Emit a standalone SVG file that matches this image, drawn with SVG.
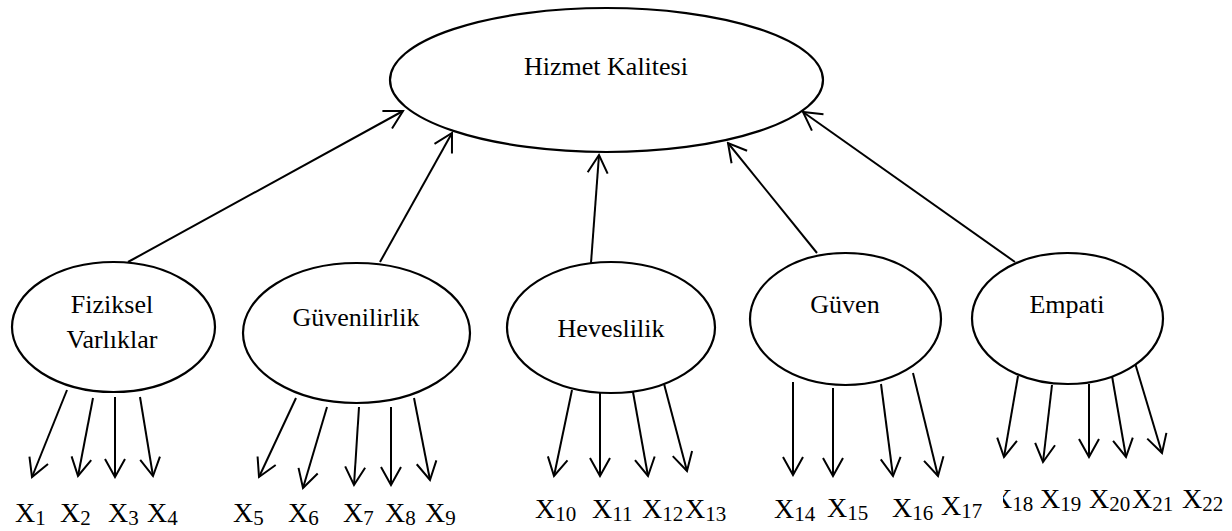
<svg xmlns="http://www.w3.org/2000/svg" width="1232" height="531" viewBox="0 0 1232 531">
<style>
.node ellipse{fill:#fff;stroke:#000;stroke-width:2.2}
.lbl{font-family:"Liberation Serif","Times New Roman",serif;font-size:26px;fill:#000;text-anchor:middle}
.x{font-family:"Liberation Serif","Times New Roman",serif;font-size:28px;fill:#000}
.s{font-size:21px}
#connectors line{stroke:#000;stroke-width:2;marker-end:url(#arr)}
</style>
<defs>
<marker id="arr" markerUnits="userSpaceOnUse" viewBox="-20 -12 22 24" refX="0" refY="0" markerWidth="22" markerHeight="24" orient="auto">
<path d="M-18,-10 L0,0 L-18,10" fill="none" stroke="#000" stroke-width="2"/>
</marker>
<clipPath id="clip18"><rect x="1003" y="480" width="60" height="50"/></clipPath>
</defs>
<g id="connectors">
<line x1="128" y1="262" x2="403" y2="111"/>
<line x1="380" y1="262" x2="452" y2="133"/>
<line x1="591" y1="263" x2="599" y2="155"/>
<line x1="817" y1="253" x2="728" y2="143"/>
<line x1="1015" y1="262" x2="803" y2="112"/>
<line x1="67" y1="390" x2="32" y2="477"/>
<line x1="93" y1="398" x2="78" y2="476"/>
<line x1="115" y1="397" x2="115" y2="477"/>
<line x1="140" y1="397" x2="153" y2="476"/>
<line x1="296" y1="398" x2="259" y2="477"/>
<line x1="327" y1="407" x2="303" y2="488"/>
<line x1="359" y1="407" x2="354" y2="485"/>
<line x1="391" y1="407" x2="391" y2="485"/>
<line x1="414" y1="398" x2="430" y2="480"/>
<line x1="572" y1="390" x2="554" y2="476"/>
<line x1="600" y1="393" x2="600" y2="476"/>
<line x1="633" y1="392" x2="648" y2="476"/>
<line x1="663" y1="380" x2="687" y2="471"/>
<line x1="793" y1="382" x2="793" y2="475"/>
<line x1="833" y1="388" x2="833" y2="476"/>
<line x1="881" y1="384" x2="893" y2="476"/>
<line x1="913" y1="373" x2="938" y2="476"/>
<line x1="1018" y1="376" x2="1004" y2="457"/>
<line x1="1052" y1="385" x2="1043" y2="462"/>
<line x1="1089" y1="384" x2="1089" y2="457"/>
<line x1="1112" y1="376" x2="1126" y2="457"/>
<line x1="1135" y1="363" x2="1162" y2="453"/>
</g>
<g id="hizmet" class="node"><ellipse cx="606.5" cy="80" rx="216.5" ry="72"/><text class="lbl" x="606" y="75">Hizmet Kalitesi</text></g>
<g id="fiziksel" class="node"><ellipse cx="113.5" cy="327" rx="101.5" ry="65"/><text class="lbl" x="112" y="313">Fiziksel</text><text class="lbl" x="112" y="348">Varlıklar</text></g>
<g id="guvenilirlik" class="node"><ellipse cx="356.5" cy="333" rx="113.5" ry="70"/><text class="lbl" x="356" y="326">Güvenilirlik</text></g>
<g id="heveslilik" class="node"><ellipse cx="611" cy="327.5" rx="104" ry="65.5"/><text class="lbl" x="611" y="337">Heveslilik</text></g>
<g id="guven" class="node"><ellipse cx="845.5" cy="319" rx="95.5" ry="66"/><text class="lbl" x="845" y="313">Güven</text></g>
<g id="empati" class="node"><ellipse cx="1067.5" cy="318.5" rx="95.5" ry="65.5"/><text class="lbl" x="1067" y="313">Empati</text></g>
<g id="labels">
<text class="x" x="15" y="522">X<tspan class="s" dy="3">1</tspan></text>
<text class="x" x="60" y="522">X<tspan class="s" dy="3">2</tspan></text>
<text class="x" x="108" y="522">X<tspan class="s" dy="3">3</tspan></text>
<text class="x" x="147" y="522">X<tspan class="s" dy="3">4</tspan></text>
<text class="x" x="233" y="522">X<tspan class="s" dy="3">5</tspan></text>
<text class="x" x="288" y="522">X<tspan class="s" dy="3">6</tspan></text>
<text class="x" x="343" y="522">X<tspan class="s" dy="3">7</tspan></text>
<text class="x" x="385" y="522">X<tspan class="s" dy="3">8</tspan></text>
<text class="x" x="425" y="522">X<tspan class="s" dy="3">9</tspan></text>
<text class="x" x="535" y="518">X<tspan class="s" dy="3">10</tspan></text>
<text class="x" x="592" y="518">X<tspan class="s" dy="3">11</tspan></text>
<text class="x" x="642" y="518">X<tspan class="s" dy="3">12</tspan></text>
<text class="x" x="685" y="518">X<tspan class="s" dy="3">13</tspan></text>
<text class="x" x="774" y="518">X<tspan class="s" dy="3">14</tspan></text>
<text class="x" x="827" y="517">X<tspan class="s" dy="3">15</tspan></text>
<text class="x" x="892" y="517">X<tspan class="s" dy="3">16</tspan></text>
<text class="x" x="941" y="515">X<tspan class="s" dy="3">17</tspan></text>
<text class="x" x="992" y="508" clip-path="url(#clip18)">X<tspan class="s" dy="3">18</tspan></text>
<text class="x" x="1040" y="508">X<tspan class="s" dy="3">19</tspan></text>
<text class="x" x="1089" y="508">X<tspan class="s" dy="3">20</tspan></text>
<text class="x" x="1132" y="508">X<tspan class="s" dy="3">21</tspan></text>
<text class="x" x="1182" y="508">X<tspan class="s" dy="3">22</tspan></text>
</g>
</svg>
